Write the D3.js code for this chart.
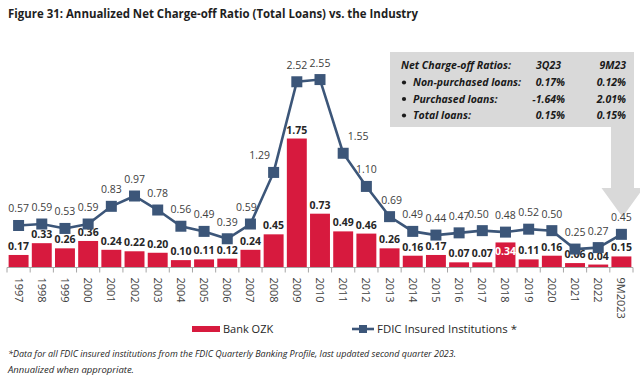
<!DOCTYPE html>
<html><head><meta charset="utf-8">
<script src="https://cdn.jsdelivr.net/npm/d3@7/dist/d3.min.js"></script>
<style>html,body{margin:0;padding:0;background:#fff;}svg{display:block;font-family:"Open Sans",sans-serif;}</style>
</head><body>
<svg id="c" width="640" height="383"></svg>
<script>
const categories = ["1997","1998","1999","2000","2001","2002","2003","2004","2005","2006","2007","2008","2009","2010","2011","2012","2013","2014","2015","2016","2017","2018","2019","2020","2021","2022","9M2023"];
const bankOZK = [0.17,0.33,0.26,0.36,0.24,0.22,0.20,0.10,0.11,0.12,0.24,0.45,1.75,0.73,0.49,0.46,0.26,0.16,0.17,0.07,0.07,0.34,0.11,0.16,0.06,0.04,0.15];
const fdic = [0.57,0.59,0.53,0.59,0.83,0.97,0.78,0.56,0.49,0.39,0.59,1.29,2.52,2.55,1.55,1.10,0.69,0.49,0.44,0.47,0.50,0.48,0.52,0.50,0.25,0.27,0.45];
const seriesNames = ["Bank OZK","FDIC Insured Institutions *"];
const calloutHeader = ["Net Charge-off Ratios:","3Q23","9M23"];
const calloutRows = ["Non-purchased loans:","Purchased loans:","Total loans:"];
const callout3Q23 = ["0.17%","-1.64%","0.15%"];
const callout9M23 = ["0.12%","2.01%","0.15%"];
const title = "Figure 31: Annualized Net Charge-off Ratio (Total Loans) vs. the Industry";
const footnotes = ["*Data for all FDIC insured institutions from the FDIC Quarterly Banking Profile, last updated second quarter 2023.","Annualized when appropriate."];

const RED = "#D71A3E", BLUE = "#3C5679";
const svg = d3.select("#c");
const base = 267.5;
const x = d3.scaleBand().domain(categories).range([7, 633]).paddingInner(0.14).paddingOuter(0.07);
const y = d3.scaleLinear().domain([0, 2.55]).range([base, base - 2.55 * 73.7]);

// title
svg.append("text").attr("x", 8).attr("y", 18).attr("font-weight", 700).attr("font-size", 12.5)
  .attr("fill", "#1e1e1e").attr("textLength", 410).attr("lengthAdjust", "spacingAndGlyphs").text(title);

// callout
const cal = svg.append("g");
const rx0 = 390, rx1 = 634, ry0 = 52, ry1 = 127, sx0 = 611, sy1 = 188, tipY = 217;
const sc = (sx0 + rx1) / 2;
cal.append("path").attr("fill", "#d9d9d9")
  .attr("d", `M${rx0},${ry0}H${rx1}V${sy1}H${sc + 21}L${sc},${tipY}L${sc - 21},${sy1}H${sx0}V${ry1}H${rx0}Z`);
const ct = cal.append("g").attr("font-weight", 700).attr("font-style", "italic").attr("font-size", 10.5).attr("fill", "#1a1a1a");
ct.append("text").attr("x", 401).attr("y", 69).attr("textLength", 110).attr("lengthAdjust", "spacingAndGlyphs").text(calloutHeader[0]);
ct.append("text").attr("x", 536).attr("y", 69).text(calloutHeader[1]);
ct.append("text").attr("x", 626).attr("y", 69).attr("text-anchor", "end").text(calloutHeader[2]);
calloutRows.forEach((r, i) => {
  const yy = 86 + i * 16.5;
  ct.append("circle").attr("cx", 404).attr("cy", yy - 3.5).attr("r", 2.1);
  ct.append("text").attr("x", 413).attr("y", yy).text(r);
  ct.append("text").attr("x", 565).attr("y", yy).attr("text-anchor", "end").text(callout3Q23[i]);
  ct.append("text").attr("x", 626).attr("y", yy).attr("text-anchor", "end").text(callout9M23[i]);
});

// bars
svg.append("g").selectAll("rect").data(bankOZK).join("rect")
  .attr("x", (d, i) => x(categories[i])).attr("width", x.bandwidth())
  .attr("y", d => y(d)).attr("height", d => base - y(d)).attr("fill", RED);

// axis line and ticks
const ax = svg.append("g").attr("stroke", "#a6a6a6").attr("stroke-width", 1);
ax.append("line").attr("x1", 7).attr("x2", 633).attr("y1", base).attr("y2", base);
const bounds = categories.map(c => x(c) - x.step() * x.paddingInner() / 2).concat([633]);
ax.selectAll("line.t").data(bounds).join("line").attr("class", "t")
  .attr("x1", d => d).attr("x2", d => d).attr("y1", base).attr("y2", base + 5);
svg.append("g").selectAll("text").data(categories).join("text")
  .attr("transform", c => `translate(${x(c) + x.bandwidth() / 2 - 4},${base + 10}) rotate(90)`)
  .attr("font-size", 11).attr("fill", "#404040").text(c => c);

// bar labels
svg.append("g").selectAll("text").data(bankOZK).join("text")
  .attr("x", (d, i) => x(categories[i]) + x.bandwidth() / 2)
  .attr("y", (d, i) => categories[i] === "2018" ? y(d) + 13 : y(d) - 5)
  .attr("text-anchor", "middle").attr("font-size", 10.5).attr("font-weight", 700)
  .attr("fill", (d, i) => categories[i] === "2018" ? "#fff" : "#262626")
  .text(d => d.toFixed(2));

// line
const cx = c => x(c) + x.bandwidth() / 2;
svg.append("path").datum(fdic).attr("fill", "none").attr("stroke", BLUE).attr("stroke-width", 2.6)
  .attr("d", d3.line().x((d, i) => cx(categories[i])).y(d => y(d)));
svg.append("g").selectAll("rect").data(fdic).join("rect")
  .attr("x", (d, i) => cx(categories[i]) - 5.5).attr("y", d => y(d) - 5.5)
  .attr("width", 11).attr("height", 11).attr("fill", BLUE);
const labelShift = {"2008": -14, "2011": 15, "2007": -4, "2017": -4, "2013": 2};
svg.append("g").selectAll("text").data(fdic).join("text")
  .attr("x", (d, i) => cx(categories[i]) + (labelShift[categories[i]] || 0))
  .attr("y", d => y(d) - 13)
  .attr("text-anchor", "middle").attr("font-size", 10.5).attr("fill", "#404040")
  .text(d => d.toFixed(2));

// legend
const lg = svg.append("g");
lg.append("rect").attr("x", 192).attr("y", 326).attr("width", 28).attr("height", 6).attr("fill", RED);
lg.append("text").attr("x", 223).attr("y", 333).attr("font-size", 11).attr("fill", "#262626").text(seriesNames[0]);
lg.append("line").attr("x1", 352).attr("x2", 374).attr("y1", 329).attr("y2", 329).attr("stroke", BLUE).attr("stroke-width", 2.6);
lg.append("rect").attr("x", 359).attr("y", 325).attr("width", 8).attr("height", 8).attr("fill", BLUE);
lg.append("text").attr("x", 377).attr("y", 333).attr("font-size", 11).attr("fill", "#262626")
  .attr("textLength", 140).attr("lengthAdjust", "spacingAndGlyphs").text(seriesNames[1]);

// footnotes
svg.append("text").attr("x", 8).attr("y", 357).attr("font-size", 8.5).attr("font-style", "italic").attr("fill", "#262626")
  .attr("textLength", 448).attr("lengthAdjust", "spacingAndGlyphs").text(footnotes[0]);
svg.append("text").attr("x", 8).attr("y", 373).attr("font-size", 8.5).attr("font-style", "italic").attr("fill", "#262626")
  .attr("textLength", 126).attr("lengthAdjust", "spacingAndGlyphs").text(footnotes[1]);
</script>
</body></html>
